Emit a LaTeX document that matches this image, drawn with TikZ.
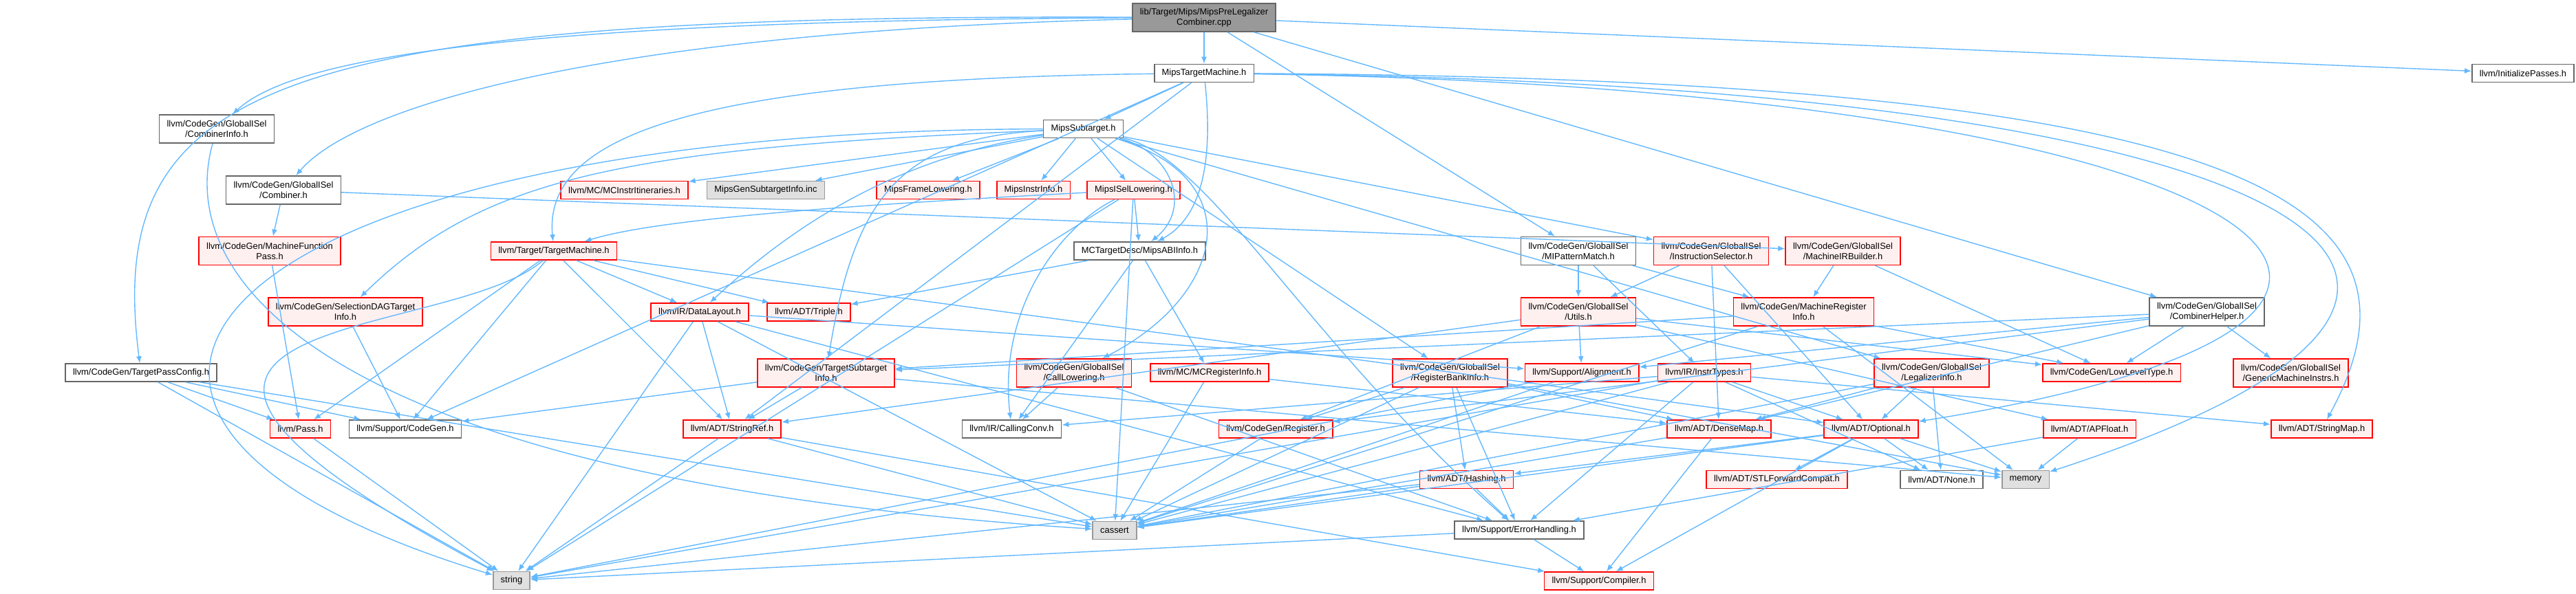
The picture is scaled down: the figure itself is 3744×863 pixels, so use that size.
\documentclass[tikz,border=0pt]{standalone}
\usepackage{fontspec}
\setmainfont{Liberation Sans}
\usetikzlibrary{arrows.meta}
\definecolor{edgeblue}{HTML}{63B8FF}
\definecolor{grey40}{HTML}{666666}
\definecolor{grey60}{HTML}{999999}
\definecolor{redfill}{HTML}{FFF0F0}
\definecolor{sysfill}{HTML}{E0E0E0}
\begin{document}
\begin{tikzpicture}[x=0.5pt,y=-0.5pt,>={Latex[length=5pt,width=4pt]},
  every node/.style={font=\fontsize{6.45pt}{7.5pt}\selectfont,inner xsep=5.5pt,inner ysep=1pt,
    minimum height=13pt,align=center,line width=0.8pt},
  hdr/.style={draw=grey40,fill=white},
  trunc/.style={draw=red,fill=redfill},
  sys/.style={draw=grey60,fill=sysfill},
  src/.style={draw=grey40,fill=grey60},
  two/.style={minimum height=20.5pt},
  inc/.style={->,draw=edgeblue,line width=0.7pt}]
  \useasboundingbox (0,0) rectangle (3744,863);
  \node[src,two] (root) at (1750,25.5) {lib/Target/Mips/MipsPreLegalizer\\Combiner.cpp};
  \node[hdr] (mtm) at (1750,106.5) {MipsTargetMachine.h};
  \node[hdr] (init) at (3667,106.5) {llvm/InitializePasses.h};
  \node[hdr] (msub) at (1574.5,187.5) {MipsSubtarget.h};
  \node[hdr,two] (cinfo) at (315,187.5) {llvm/CodeGen/GlobalISel\\/CombinerInfo.h};
  \node[hdr,two] (comb) at (412,276.5) {llvm/CodeGen/GlobalISel\\/Combiner.h};
  \node[trunc] (itin) at (907.5,276.5) {llvm/MC/MCInstrItineraries.h};
  \node[sys] (gensub) at (1113,276.5) {MipsGenSubtargetInfo.inc};
  \node[trunc] (mfl) at (1349,276.5) {MipsFrameLowering.h};
  \node[trunc] (mii) at (1502,276.5) {MipsInstrInfo.h};
  \node[trunc] (misel) at (1647.5,276.5) {MipsISelLowering.h};
  \node[trunc,two] (mfp) at (392,365) {llvm/CodeGen/MachineFunction\\Pass.h};
  \node[trunc] (tm) at (805,365) {llvm/Target/TargetMachine.h};
  \node[hdr] (abi) at (1656.5,365) {MCTargetDesc/MipsABIInfo.h};
  \node[hdr,two] (mipm) at (2294,365) {llvm/CodeGen/GlobalISel\\/MIPatternMatch.h};
  \node[trunc,two] (isel) at (2487,365) {llvm/CodeGen/GlobalISel\\/InstructionSelector.h};
  \node[trunc,two] (mirb) at (2678.5,365) {llvm/CodeGen/GlobalISel\\/MachineIRBuilder.h};
  \node[trunc,two] (sdti) at (502,453.5) {llvm/CodeGen/SelectionDAGTarget\\Info.h};
  \node[trunc] (dl) at (1017,454) {llvm/IR/DataLayout.h};
  \node[trunc] (triple) at (1175.5,454) {llvm/ADT/Triple.h};
  \node[trunc,two] (utils) at (2294,453.5) {llvm/CodeGen/GlobalISel\\/Utils.h};
  \node[trunc,two] (mri) at (2621.5,453.5) {llvm/CodeGen/MachineRegister\\Info.h};
  \node[hdr,two] (chelp) at (3207.5,453.5) {llvm/CodeGen/GlobalISel\\/CombinerHelper.h};
  \node[hdr] (tpc) at (205,542) {llvm/CodeGen/TargetPassConfig.h};
  \node[trunc,two] (tsi) at (1200.5,542.5) {llvm/CodeGen/TargetSubtarget\\Info.h};
  \node[trunc,two] (calllow) at (1561,542.5) {llvm/CodeGen/GlobalISel\\/CallLowering.h};
  \node[trunc] (mcreg) at (1758,542) {llvm/MC/MCRegisterInfo.h};
  \node[trunc,two] (rbi) at (2107.5,542.5) {llvm/CodeGen/GlobalISel\\/RegisterBankInfo.h};
  \node[trunc] (align) at (2299,542) {llvm/Support/Alignment.h};
  \node[trunc] (instrty) at (2477,542) {llvm/IR/InstrTypes.h};
  \node[trunc,two] (legal) at (2807.5,542.5) {llvm/CodeGen/GlobalISel\\/LegalizerInfo.h};
  \node[trunc] (llt) at (3069,542) {llvm/CodeGen/LowLevelType.h};
  \node[trunc,two] (gmi) at (3329.5,542.5) {llvm/CodeGen/GlobalISel\\/GenericMachineInstrs.h};
  \node[trunc] (pass) at (436.5,624) {llvm/Pass.h};
  \node[hdr] (cgen) at (589,624) {llvm/Support/CodeGen.h};
  \node[trunc] (sref) at (1064,624) {llvm/ADT/StringRef.h};
  \node[hdr] (cconv) at (1470.5,624) {llvm/IR/CallingConv.h};
  \node[trunc] (reg) at (1854,624) {llvm/CodeGen/Register.h};
  \node[trunc] (dmap) at (2498.5,624) {llvm/ADT/DenseMap.h};
  \node[trunc] (opt) at (2719.5,624) {llvm/ADT/Optional.h};
  \node[trunc] (apf) at (3037,624) {llvm/ADT/APFloat.h};
  \node[trunc] (smap) at (3374.5,624) {llvm/ADT/StringMap.h};
  \node[trunc] (hash) at (2131.5,697.5) {llvm/ADT/Hashing.h};
  \node[trunc] (stlfc) at (2582.5,697.5) {llvm/ADT/STLForwardCompat.h};
  \node[hdr] (none) at (2822,697.5) {llvm/ADT/None.h};
  \node[sys] (mem) at (2944,697.5) {memory};
  \node[sys] (cass) at (1620,771.5) {cassert};
  \node[hdr] (err) at (2208,771) {llvm/Support/ErrorHandling.h};
  \node[sys] (str) at (743.5,844.5) {string};
  \node[trunc] (comp) at (2324,845) {llvm/Support/Compiler.h};
  \foreach \a/\b in {root/mtm,root/mipm,root/chelp,root/init,
      mtm/msub,mtm/cgen,mtm/sref,
      msub/itin,msub/gensub,msub/mfl,msub/mii,msub/misel,msub/isel,
      msub/legal,msub/rbi,
      misel/abi,misel/cass,misel/str,
      abi/triple,abi/cconv,abi/mcreg,comb/mfp,comb/mirb,mfp/pass,
      tpc/pass,tpc/cgen,tpc/cass,tpc/str,
      tm/dl,tm/triple,tm/sref,tm/pass,tm/cgen,tm/opt,sdti/cgen,
      dl/sref,dl/align,dl/err,dl/cass,dl/str,tsi/cgen,tsi/sref,tsi/mem,
      mipm/utils,mipm/instrty,mipm/mri,isel/utils,isel/dmap,isel/opt,
      utils/align,utils/sref,utils/reg,utils/apf,utils/llt,calllow/cconv,calllow/err,
      mcreg/dmap,mcreg/cass,rbi/reg,rbi/dmap,rbi/hash,rbi/err,rbi/cass,rbi/mem,
      align/cass,align/str,instrty/cconv,instrty/none,instrty/opt,instrty/smap,
      instrty/err,instrty/cass,instrty/str,mirb/mri,mirb/llt,mri/tsi,mri/llt,mri/cass,mri/mem,
      chelp/tsi,chelp/align,chelp/llt,chelp/gmi,chelp/reg,chelp/dmap,
      legal/dmap,legal/opt,legal/none,legal/cass,reg/cass,dmap/comp,dmap/cass,
      hash/err,hash/cass,hash/str,err/comp,err/str,
      opt/hash,opt/none,opt/stlfc,opt/comp,opt/cass,opt/mem,
      sref/comp,sref/cass,sref/str,apf/err,apf/mem,pass/str}
    \draw[inc] (\a) -- (\b);
  \draw[inc] (root) .. controls (400,20) and (150,120) .. (tpc);
  \draw[inc] (root) .. controls (700,30) and (420,90) .. (cinfo);
  \draw[inc] (root) .. controls (900,45) and (520,150) .. (comb);
  \draw[inc] (mtm) .. controls (1000,115) and (790,200) .. (tm);
  \draw[inc] (mtm) .. controls (1765,250) and (1740,320) .. (abi);
  \draw[inc] (msub) .. controls (1700,220) and (1735,300) .. (abi);
  \draw[inc] (msub) .. controls (1820,260) and (1780,430) .. (calllow);
  \draw[inc] (msub) .. controls (900,215) and (700,260) .. (sdti);
  \draw[inc] (msub) .. controls (1300,230) and (1150,330) .. (dl);
  \draw[inc] (msub) .. controls (1300,200) and (1240,300) .. (tsi);
  \draw[inc] (msub) .. controls (1760,230) and (1900,500) .. (err);
  \draw[inc] (misel) .. controls (1200,300) and (950,320) .. (tm);
  \draw[inc] (misel) .. controls (1540,330) and (1450,450) .. (cconv);
  \draw[inc] (msub) .. controls (300,190) and (-60,600) .. (str);
  \draw[inc] (tm) .. controls (650,500) and (0,450) .. (str);
  \draw[inc] (cinfo) .. controls (250,420) and (500,700) .. (cass);
  \draw[inc] (mtm) .. controls (3300,115) and (3550,300) .. (smap);
  \draw[inc] (mtm) .. controls (3400,125) and (3800,420) .. (mem);
  \draw[inc] (mtm) .. controls (3300,130) and (3750,460) .. (opt);
\end{tikzpicture}
\end{document}
